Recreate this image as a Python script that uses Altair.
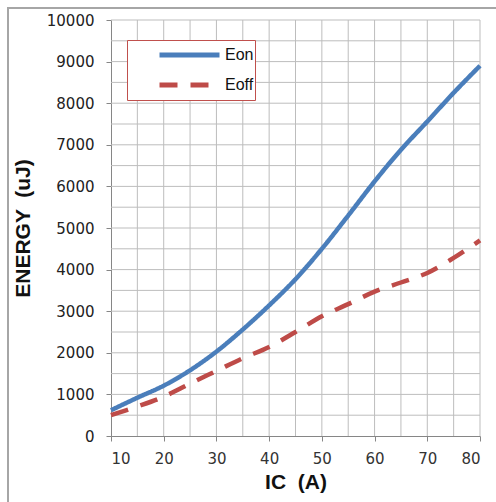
import altair as alt
import pandas as pd

ic = [10, 15, 20, 25, 30, 35, 40, 45, 50, 55, 60, 65, 70, 75, 80]
eon = [620, 920, 1210, 1580, 2030, 2560, 3140, 3770, 4500, 5300, 6120, 6880, 7560, 8250, 8900]
eoff = [500, 710, 945, 1260, 1565, 1870, 2140, 2500, 2880, 3170, 3470, 3690, 3920, 4280, 4700]
series_names = ["Eon", "Eoff"]
colors = ["#4a7ebb", "#be4b48"]
x_ticks = [10, 20, 30, 40, 50, 60, 70, 80]
x_grid = [15, 20, 25, 30, 35, 40, 45, 50, 55, 60, 65, 70, 75, 80]
y_ticks = [0, 1000, 2000, 3000, 4000, 5000, 6000, 7000, 8000, 9000, 10000]
y_grid = [500, 1000, 1500, 2000, 2500, 3000, 3500, 4000, 4500, 5000,
          5500, 6000, 6500, 7000, 7500, 8000, 8500, 9000, 9500, 10000]

rows = []
for x, a, b in zip(ic, eon, eoff):
    rows.append({"IC": x, "E": a, "s": "Eon"})
    rows.append({"IC": x, "E": b, "s": "Eoff"})
df = pd.DataFrame(rows)

W, H = 369, 416
LEFT, TOP = 111, 20

xs = alt.Scale(domain=[10, 80], nice=False)
ys = alt.Scale(domain=[0, 10000], nice=False)
GRID = "#bdbdbd"

x_axis = alt.Axis(values=x_ticks, orient="bottom", title="IC \u00a0(A)", grid=False, format="d",
                  labelFont="DejaVu Sans", labelFontSize=15, labelColor="#333",
                  labelPadding=10, tickSize=5, tickColor="#868686",
                  domainColor="#868686",
                  titleFont="Liberation Sans", titleFontSize=21, titleFontWeight="bold",
                  titleColor="#111", titlePadding=5)
y_axis = alt.Axis(values=y_ticks, orient="left", title="ENERGY \u00a0(uJ)", grid=False, format="d",
                  labelFont="DejaVu Sans", labelFontSize=15, labelColor="#222",
                  labelPadding=12, tickSize=5, tickColor="#868686",
                  domainColor="#868686",
                  titleFont="Liberation Sans", titleFontSize=21, titleFontWeight="bold",
                  titleColor="#111", titlePadding=13)

vgrid = alt.Chart(pd.DataFrame({"IC": x_grid})).mark_rule(color=GRID, strokeWidth=1).encode(
    x=alt.X("IC:Q", scale=xs, axis=x_axis)
)
hgrid = alt.Chart(pd.DataFrame({"E": y_grid})).mark_rule(color=GRID, strokeWidth=1).encode(
    y=alt.Y("E:Q", scale=ys, axis=y_axis)
)

lines = alt.Chart(df).mark_line(strokeWidth=4.5, interpolate="catmull-rom").encode(
    x=alt.X("IC:Q", scale=xs, axis=x_axis),
    y=alt.Y("E:Q", scale=ys, axis=y_axis),
    color=alt.Color("s:N", scale=alt.Scale(domain=series_names, range=colors),
                    legend=alt.Legend(orient="none", legendX=16, legendY=20, title=None,
                                      symbolType="stroke", symbolSize=3600, symbolStrokeWidth=5,
                                      symbolOffset=29, clipHeight=28, padding=1,
                                      labelFont="Liberation Sans", labelFontSize=16,
                                      labelColor="#111", labelOffset=3,
                                      labelExpr="datum.label + '              '",
                                      strokeColor="#c0504d", fillColor="white")),
    strokeDash=alt.StrokeDash("s:N", scale=alt.Scale(domain=series_names, range=[[1, 0], [18, 13]]),
                              legend=None),
)

frame = alt.Chart(pd.DataFrame({"a": [0]})).mark_rect(
    fill="transparent", stroke="#a6a6a6", strokeWidth=2
).encode(
    x=alt.value(8 - LEFT), x2=alt.value(496 - LEFT + 10),
    y=alt.value(8 - TOP), y2=alt.value(502 - TOP + 10),
)

chart = alt.layer(vgrid, hgrid, lines, frame).properties(
    width=W, height=H,
    autosize=alt.AutoSizeParams(type="none"),
    padding={"left": LEFT, "top": TOP, "right": 496 - LEFT - W, "bottom": 502 - TOP - H},
    background="white",
).configure_view(stroke=None)

chart.save("out.html", embed_options={"renderer": "svg", "actions": False})
